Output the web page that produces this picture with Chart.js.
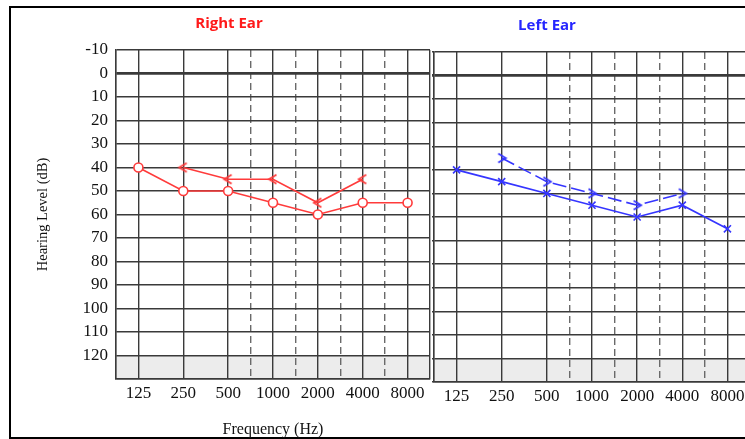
<!DOCTYPE html>
<html>
<head>
<meta charset="utf-8">
<title>Audiogram</title>
<script src="https://cdn.jsdelivr.net/npm/chart.js@4.4.0/dist/chart.umd.min.js"></script>
<style>
  html, body { margin: 0; padding: 0; background: #fff; overflow: hidden; width: 745px; height: 439px; }
  #frame { position: absolute; left: 9px; top: 6px; width: 800px; height: 429px; border: 2px solid #000; }
  .ear { position: absolute; top: 0; height: 439px; }
  .title { position: absolute; font: bold 15px "Open Sans", sans-serif; transform: translateX(-50%); white-space: nowrap; }
</style>
</head>
<body>
<div id="frame"></div>
<div class="ear" style="left:0;width:432px"><canvas id="rightEar"></canvas></div>
<div class="ear" style="left:432px;width:320px"><canvas id="leftEar"></canvas></div>
<div class="title" style="left:229px;top:12px;color:#ff1a1a">Right Ear</div>
<div class="title" style="left:547px;top:14px;color:#2626ff">Left Ear</div>
<script>
const frequencies = ['125', '250', '500', '1000', '2000', '4000', '8000'];
const halfOctaves = [2.5, 3.5, 4.5, 5.5]; // 750, 1500, 3000, 6000 (dashed)
const hearingLevels = [-10, 0, 10, 20, 30, 40, 50, 60, 70, 80, 90, 100, 110, 120];

const rightAir = [40, 50, 50, 55, 60, 55, 55];
const rightBone = [null, 40, 45, 45, 55, 45, null];
const leftAir = [40, 45, 50, 55, 60, 55, 65];
const leftBone = [null, 35, 45, 50, 55, 50, null];

const RED = '#ff3b3b';
const BLUE = '#3535ff';
const GRID = '#3a3a3a';
const TEXT = '#111';

Chart.defaults.font.family = '"Liberation Serif", "Times New Roman", serif';
Chart.defaults.color = TEXT;

function chevron(dir, color) {
    const c = document.createElement('canvas');
    c.width = 12;
    c.height = 12;
    const g = c.getContext('2d');
    g.strokeStyle = color;
    g.lineWidth = 1.8;
    g.beginPath();
    if (dir === '<') {
        g.moveTo(9.5, 1.5); g.lineTo(2, 6); g.lineTo(9.5, 10.5);
    } else {
        g.moveTo(2.5, 1.5); g.lineTo(10, 6); g.lineTo(2.5, 10.5);
    }
    g.stroke();
    return c;
}

const toPoints = arr => arr.map((v, i) => ({ x: i, y: v }));

// grey band for the 120-130 dB floor
const floorBand = {
    id: 'floorBand',
    beforeDraw(chart) {
        const { ctx, chartArea, scales } = chart;
        const top = scales.y.getPixelForValue(120);
        const bottom = scales.y.getPixelForValue(130);
        ctx.save();
        ctx.fillStyle = '#ececec';
        ctx.fillRect(chartArea.left, top, chartArea.right - chartArea.left, bottom - top);
        ctx.restore();
    }
};

const gridPositions = [-0.5, 0, 1, 2, 2.5, 3, 3.5, 4, 4.5, 5, 5.5, 6, 6.5];

const makeAudiogram = (id, datasets, side) => {
    const isRight = side === 'right';
    new Chart(document.getElementById(id), {
        type: 'line',
        data: { datasets: datasets },
        plugins: [floorBand],
        options: {
            responsive: true,
            maintainAspectRatio: false,
            animation: false,
            layout: {
                autoPadding: false,
                padding: { top: isRight ? 50 : 52, right: 2, left: 0, bottom: 0 }
            },
            plugins: { legend: { display: false }, tooltip: { enabled: false } },
            scales: {
                x: {
                    type: 'linear',
                    min: -0.5,
                    max: 6.5,
                    afterBuildTicks: s => { s.ticks = gridPositions.map(v => ({ value: v })); },
                    afterFit: s => {
                        s.height = isRight ? 60 : 57;
                        s.paddingLeft = 0;
                        s.paddingRight = 0;
                    },
                    ticks: {
                        autoSkip: false,
                        maxRotation: 0,
                        padding: 0,
                        font: { size: 17 },
                        color: TEXT,
                        callback: v => Number.isInteger(v) && v >= 0 ? frequencies[v] : ''
                    },
                    grid: {
                        color: c => c.tick && halfOctaves.includes(c.tick.value) ? '#6a6a6a' : GRID,
                        lineWidth: 1.4,
                        drawTicks: true,
                        tickLength: 4,
                        tickColor: 'rgba(0,0,0,0)'
                    },
                    border: {
                        color: GRID,
                        width: 1.4,
                        dash: c => c.tick && halfOctaves.includes(c.tick.value) ? [7, 4] : []
                    },
                    title: {
                        display: isRight,
                        text: 'Frequency (Hz)',
                        font: { size: 16 },
                        color: TEXT,
                        padding: { top: 0, bottom: 0 }
                    }
                },
                y: {
                    reverse: true,
                    min: -10,
                    max: 130,
                    afterBuildTicks: s => { s.ticks = hearingLevels.concat([130]).map(v => ({ value: v })); },
                    afterFit: s => {
                        s.width = isRight ? 116 : 2;
                        s.paddingTop = 0;
                        s.paddingBottom = 0;
                    },
                    ticks: {
                        display: isRight,
                        padding: 8,
                        font: { size: 17 },
                        color: TEXT,
                        callback: v => hearingLevels.includes(v) ? v : ''
                    },
                    grid: {
                        color: GRID,
                        lineWidth: c => c.tick && c.tick.value === 0 ? 2.8 : 1.4,
                        drawTicks: !isRight,
                        tickLength: 3
                    },
                    border: { color: GRID, width: 1.4 },
                    title: {
                        display: isRight,
                        text: 'Hearing Level (dB)',
                        font: { size: 14.5 },
                        color: TEXT,
                        padding: { top: 34, bottom: 0 }
                    }
                }
            }
        }
    });
};

makeAudiogram('rightEar', [
    {
        data: toPoints(rightAir),
        borderColor: RED,
        borderWidth: 1.6,
        pointStyle: 'circle',
        pointRadius: 4.5,
        pointBorderWidth: 1.6,
        pointBorderColor: RED,
        pointBackgroundColor: '#fff'
    },
    {
        data: toPoints(rightBone),
        borderColor: RED,
        borderWidth: 1.6,
        pointStyle: chevron('<', RED),
        pointRadius: 5
    }
], 'right');

makeAudiogram('leftEar', [
    {
        data: toPoints(leftAir),
        borderColor: BLUE,
        borderWidth: 1.6,
        pointStyle: 'crossRot',
        pointRadius: 5,
        pointBorderWidth: 1.6,
        pointBorderColor: BLUE
    },
    {
        data: toPoints(leftBone),
        borderColor: BLUE,
        borderWidth: 1.6,
        borderDash: [14, 5],
        pointStyle: chevron('>', BLUE),
        pointRadius: 5
    }
], 'left');
</script>
</body>
</html>
